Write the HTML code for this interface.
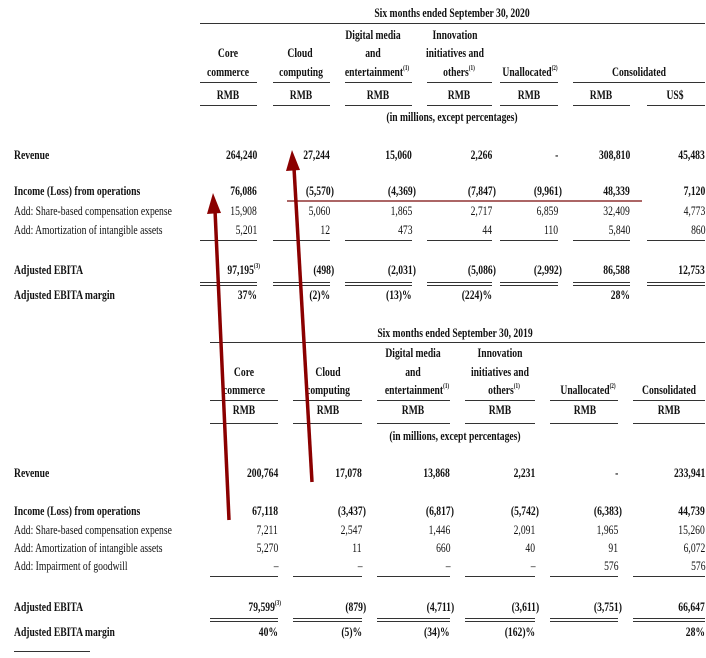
<!DOCTYPE html>
<html><head><meta charset="utf-8"><style>
body{margin:0;width:706px;height:658px;background:#fff;position:relative;overflow:hidden;font-family:"Liberation Serif",serif;font-size:13px;color:#111}
.t{position:absolute;line-height:16px;white-space:nowrap}
.l{transform:scaleX(.74);transform-origin:left center}
.r{transform:scaleX(.74);transform-origin:right center}
.c{transform:translateX(-50%) scaleX(.74);transform-origin:center center}
.b{font-weight:bold}
.h{position:absolute;height:0;border-top:1.5px solid #333}
.d{position:absolute;height:2px;border-top:1.5px solid #333;border-bottom:1.5px solid #333}
sup{font-size:7px;vertical-align:top;line-height:8px}
</style></head><body>

<!-- TOP -->
<div class="t c b" style="left:452px;top:5px">Six months ended September 30, 2020</div>
<div class="h" style="left:200px;top:23px;width:505px"></div>
<div class="t c b" style="left:373px;top:27px">Digital media</div>
<div class="t c b" style="left:455px;top:27px">Innovation</div>
<div class="t c b" style="left:228px;top:45px">Core</div>
<div class="t c b" style="left:300px;top:45px">Cloud</div>
<div class="t c b" style="left:373px;top:45px">and</div>
<div class="t c b" style="left:455px;top:45px">initiatives and</div>
<div class="t c b" style="left:228px;top:64px">commerce</div>
<div class="t c b" style="left:301px;top:64px">computing</div>
<div class="t c b" style="left:377px;top:64px">entertainment<sup>(1)</sup></div>
<div class="t c b" style="left:459px;top:64px">others<sup>(1)</sup></div>
<div class="t c b" style="left:530px;top:64px">Unallocated<sup>(2)</sup></div>
<div class="t c b" style="left:639px;top:64px">Consolidated</div>
<div class="h" style="left:200px;top:82px;width:57px"></div>
<div class="h" style="left:273px;top:82px;width:57px"></div>
<div class="h" style="left:345px;top:82px;width:67px"></div>
<div class="h" style="left:427px;top:82px;width:65px"></div>
<div class="h" style="left:500px;top:82px;width:58px"></div>
<div class="h" style="left:573px;top:82px;width:132px"></div>
<div class="t c b" style="left:228px;top:87px">RMB</div>
<div class="t c b" style="left:301px;top:87px">RMB</div>
<div class="t c b" style="left:378px;top:87px">RMB</div>
<div class="t c b" style="left:459px;top:87px">RMB</div>
<div class="t c b" style="left:529px;top:87px">RMB</div>
<div class="t c b" style="left:601px;top:87px">RMB</div>
<div class="t c b" style="left:675px;top:87px">US$</div>
<div class="h" style="left:200px;top:105px;width:57px"></div>
<div class="h" style="left:273px;top:105px;width:57px"></div>
<div class="h" style="left:345px;top:105px;width:67px"></div>
<div class="h" style="left:427px;top:105px;width:65px"></div>
<div class="h" style="left:500px;top:105px;width:58px"></div>
<div class="h" style="left:573px;top:105px;width:57px"></div>
<div class="h" style="left:647px;top:105px;width:58px"></div>
<div class="t c b" style="left:452px;top:109px">(in millions, except percentages)</div>

<div class="t l b" style="left:14px;top:147px">Revenue</div>
<div class="t r b" style="right:449px;top:147px">264,240</div>
<div class="t r b" style="right:376px;top:147px">27,244</div>
<div class="t r b" style="right:294px;top:147px">15,060</div>
<div class="t r b" style="right:214px;top:147px">2,266</div>
<div class="t r b" style="right:148px;top:147px">-</div>
<div class="t r b" style="right:76px;top:147px">308,810</div>
<div class="t r b" style="right:1px;top:147px">45,483</div>

<div class="t l b" style="left:14px;top:183px">Income (Loss) from operations</div>
<div class="t r b" style="right:449px;top:183px">76,086</div>
<div class="t r b" style="right:372px;top:183px">(5,570)</div>
<div class="t r b" style="right:290px;top:183px">(4,369)</div>
<div class="t r b" style="right:210px;top:183px">(7,847)</div>
<div class="t r b" style="right:144px;top:183px">(9,961)</div>
<div class="t r b" style="right:76px;top:183px">48,339</div>
<div class="t r b" style="right:1px;top:183px">7,120</div>

<div class="t l" style="left:14px;top:203px">Add: Share-based compensation expense</div>
<div class="t r" style="right:449px;top:203px">15,908</div>
<div class="t r" style="right:376px;top:203px">5,060</div>
<div class="t r" style="right:294px;top:203px">1,865</div>
<div class="t r" style="right:214px;top:203px">2,717</div>
<div class="t r" style="right:148px;top:203px">6,859</div>
<div class="t r" style="right:76px;top:203px">32,409</div>
<div class="t r" style="right:1px;top:203px">4,773</div>

<div class="t l" style="left:14px;top:222px">Add: Amortization of intangible assets</div>
<div class="t r" style="right:449px;top:222px">5,201</div>
<div class="t r" style="right:376px;top:222px">12</div>
<div class="t r" style="right:294px;top:222px">473</div>
<div class="t r" style="right:214px;top:222px">44</div>
<div class="t r" style="right:148px;top:222px">110</div>
<div class="t r" style="right:76px;top:222px">5,840</div>
<div class="t r" style="right:1px;top:222px">860</div>
<div class="h" style="left:200px;top:240px;width:57px"></div>
<div class="h" style="left:273px;top:240px;width:57px"></div>
<div class="h" style="left:345px;top:240px;width:67px"></div>
<div class="h" style="left:427px;top:240px;width:65px"></div>
<div class="h" style="left:500px;top:240px;width:58px"></div>
<div class="h" style="left:573px;top:240px;width:57px"></div>
<div class="h" style="left:647px;top:240px;width:58px"></div>

<div class="t l b" style="left:14px;top:262px">Adjusted EBITA</div>
<div class="t r b" style="right:446px;top:262px">97,195<sup>(3)</sup></div>
<div class="t r b" style="right:372px;top:262px">(498)</div>
<div class="t r b" style="right:290px;top:262px">(2,031)</div>
<div class="t r b" style="right:210px;top:262px">(5,086)</div>
<div class="t r b" style="right:144px;top:262px">(2,992)</div>
<div class="t r b" style="right:76px;top:262px">86,588</div>
<div class="t r b" style="right:1px;top:262px">12,753</div>
<div class="d" style="left:200px;top:282px;width:57px"></div>
<div class="d" style="left:273px;top:282px;width:57px"></div>
<div class="d" style="left:345px;top:282px;width:67px"></div>
<div class="d" style="left:427px;top:282px;width:65px"></div>
<div class="d" style="left:500px;top:282px;width:58px"></div>
<div class="d" style="left:573px;top:282px;width:57px"></div>
<div class="d" style="left:647px;top:282px;width:58px"></div>
<div class="t l b" style="left:14px;top:287px">Adjusted EBITA margin</div>
<div class="t r b" style="right:449px;top:287px">37%</div>
<div class="t r b" style="right:376px;top:287px">(2)%</div>
<div class="t r b" style="right:294px;top:287px">(13)%</div>
<div class="t r b" style="right:214px;top:287px">(224)%</div>
<div class="t r b" style="right:76px;top:287px">28%</div>

<!-- BOTTOM -->
<div class="t c b" style="left:455px;top:325px">Six months ended September 30, 2019</div>
<div class="h" style="left:210px;top:342px;width:495px"></div>
<div class="t c b" style="left:413px;top:345px">Digital media</div>
<div class="t c b" style="left:500px;top:345px">Innovation</div>
<div class="t c b" style="left:244px;top:364px">Core</div>
<div class="t c b" style="left:328px;top:364px">Cloud</div>
<div class="t c b" style="left:413px;top:364px">and</div>
<div class="t c b" style="left:500px;top:364px">initiatives and</div>
<div class="t c b" style="left:244px;top:382px">commerce</div>
<div class="t c b" style="left:328px;top:382px">computing</div>
<div class="t c b" style="left:417px;top:382px">entertainment<sup>(1)</sup></div>
<div class="t c b" style="left:504px;top:382px">others<sup>(1)</sup></div>
<div class="t c b" style="left:588px;top:382px">Unallocated<sup>(2)</sup></div>
<div class="t c b" style="left:669px;top:382px">Consolidated</div>
<div class="h" style="left:210px;top:400px;width:68px"></div>
<div class="h" style="left:293px;top:400px;width:69px"></div>
<div class="h" style="left:377px;top:400px;width:73px"></div>
<div class="h" style="left:465px;top:400px;width:70px"></div>
<div class="h" style="left:550px;top:400px;width:68px"></div>
<div class="h" style="left:633px;top:400px;width:72px"></div>
<div class="t c b" style="left:244px;top:402px">RMB</div>
<div class="t c b" style="left:328px;top:402px">RMB</div>
<div class="t c b" style="left:413px;top:402px">RMB</div>
<div class="t c b" style="left:500px;top:402px">RMB</div>
<div class="t c b" style="left:585px;top:402px">RMB</div>
<div class="t c b" style="left:669px;top:402px">RMB</div>
<div class="h" style="left:210px;top:423px;width:68px"></div>
<div class="h" style="left:293px;top:423px;width:69px"></div>
<div class="h" style="left:377px;top:423px;width:73px"></div>
<div class="h" style="left:465px;top:423px;width:70px"></div>
<div class="h" style="left:550px;top:423px;width:68px"></div>
<div class="h" style="left:633px;top:423px;width:72px"></div>
<div class="t c b" style="left:455px;top:428px">(in millions, except percentages)</div>

<div class="t l b" style="left:14px;top:465px">Revenue</div>
<div class="t r b" style="right:428px;top:465px">200,764</div>
<div class="t r b" style="right:344px;top:465px">17,078</div>
<div class="t r b" style="right:256px;top:465px">13,868</div>
<div class="t r b" style="right:171px;top:465px">2,231</div>
<div class="t r b" style="right:88px;top:465px">-</div>
<div class="t r b" style="right:1px;top:465px">233,941</div>

<div class="t l b" style="left:14px;top:503px">Income (Loss) from operations</div>
<div class="t r b" style="right:428px;top:503px">67,118</div>
<div class="t r b" style="right:340px;top:503px">(3,437)</div>
<div class="t r b" style="right:252px;top:503px">(6,817)</div>
<div class="t r b" style="right:167px;top:503px">(5,742)</div>
<div class="t r b" style="right:84px;top:503px">(6,383)</div>
<div class="t r b" style="right:1px;top:503px">44,739</div>

<div class="t l" style="left:14px;top:522px">Add: Share-based compensation expense</div>
<div class="t r" style="right:428px;top:522px">7,211</div>
<div class="t r" style="right:344px;top:522px">2,547</div>
<div class="t r" style="right:256px;top:522px">1,446</div>
<div class="t r" style="right:171px;top:522px">2,091</div>
<div class="t r" style="right:88px;top:522px">1,965</div>
<div class="t r" style="right:1px;top:522px">15,260</div>

<div class="t l" style="left:14px;top:540px">Add: Amortization of intangible assets</div>
<div class="t r" style="right:428px;top:540px">5,270</div>
<div class="t r" style="right:344px;top:540px">11</div>
<div class="t r" style="right:256px;top:540px">660</div>
<div class="t r" style="right:171px;top:540px">40</div>
<div class="t r" style="right:88px;top:540px">91</div>
<div class="t r" style="right:1px;top:540px">6,072</div>

<div class="t l" style="left:14px;top:558px">Add: Impairment of goodwill</div>
<div class="t r" style="right:428px;top:558px">–</div>
<div class="t r" style="right:344px;top:558px">–</div>
<div class="t r" style="right:256px;top:558px">–</div>
<div class="t r" style="right:171px;top:558px">–</div>
<div class="t r" style="right:88px;top:558px">576</div>
<div class="t r" style="right:1px;top:558px">576</div>
<div class="h" style="left:210px;top:576px;width:68px"></div>
<div class="h" style="left:293px;top:576px;width:69px"></div>
<div class="h" style="left:377px;top:576px;width:73px"></div>
<div class="h" style="left:465px;top:576px;width:70px"></div>
<div class="h" style="left:550px;top:576px;width:68px"></div>
<div class="h" style="left:633px;top:576px;width:72px"></div>

<div class="t l b" style="left:14px;top:599px">Adjusted EBITA</div>
<div class="t r b" style="right:425px;top:599px">79,599<sup>(3)</sup></div>
<div class="t r b" style="right:340px;top:599px">(879)</div>
<div class="t r b" style="right:252px;top:599px">(4,711)</div>
<div class="t r b" style="right:167px;top:599px">(3,611)</div>
<div class="t r b" style="right:84px;top:599px">(3,751)</div>
<div class="t r b" style="right:1px;top:599px">66,647</div>
<div class="d" style="left:210px;top:618px;width:68px"></div>
<div class="d" style="left:293px;top:618px;width:69px"></div>
<div class="d" style="left:377px;top:618px;width:73px"></div>
<div class="d" style="left:465px;top:618px;width:70px"></div>
<div class="d" style="left:550px;top:618px;width:68px"></div>
<div class="d" style="left:633px;top:618px;width:72px"></div>
<div class="t l b" style="left:14px;top:624px">Adjusted EBITA margin</div>
<div class="t r b" style="right:428px;top:624px">40%</div>
<div class="t r b" style="right:344px;top:624px">(5)%</div>
<div class="t r b" style="right:256px;top:624px">(34)%</div>
<div class="t r b" style="right:171px;top:624px">(162)%</div>
<div class="t r b" style="right:1px;top:624px">28%</div>
<div class="h" style="left:14px;top:651px;width:76px;border-top-width:1px"></div>

<svg width="706" height="658" style="position:absolute;left:0;top:0" xmlns="http://www.w3.org/2000/svg">
<line x1="287" y1="201" x2="642" y2="201" stroke="#7a0a0a" stroke-width="1.2"/>
<line x1="229" y1="520" x2="215" y2="210" stroke="#8b0000" stroke-width="3.5"/>
<polygon points="213,193 207,214 221,213" fill="#8b0000"/>
<line x1="312" y1="482" x2="294" y2="168" stroke="#8b0000" stroke-width="3.5"/>
<polygon points="292,150 286,171 300,170" fill="#8b0000"/>
</svg>
</body></html>
